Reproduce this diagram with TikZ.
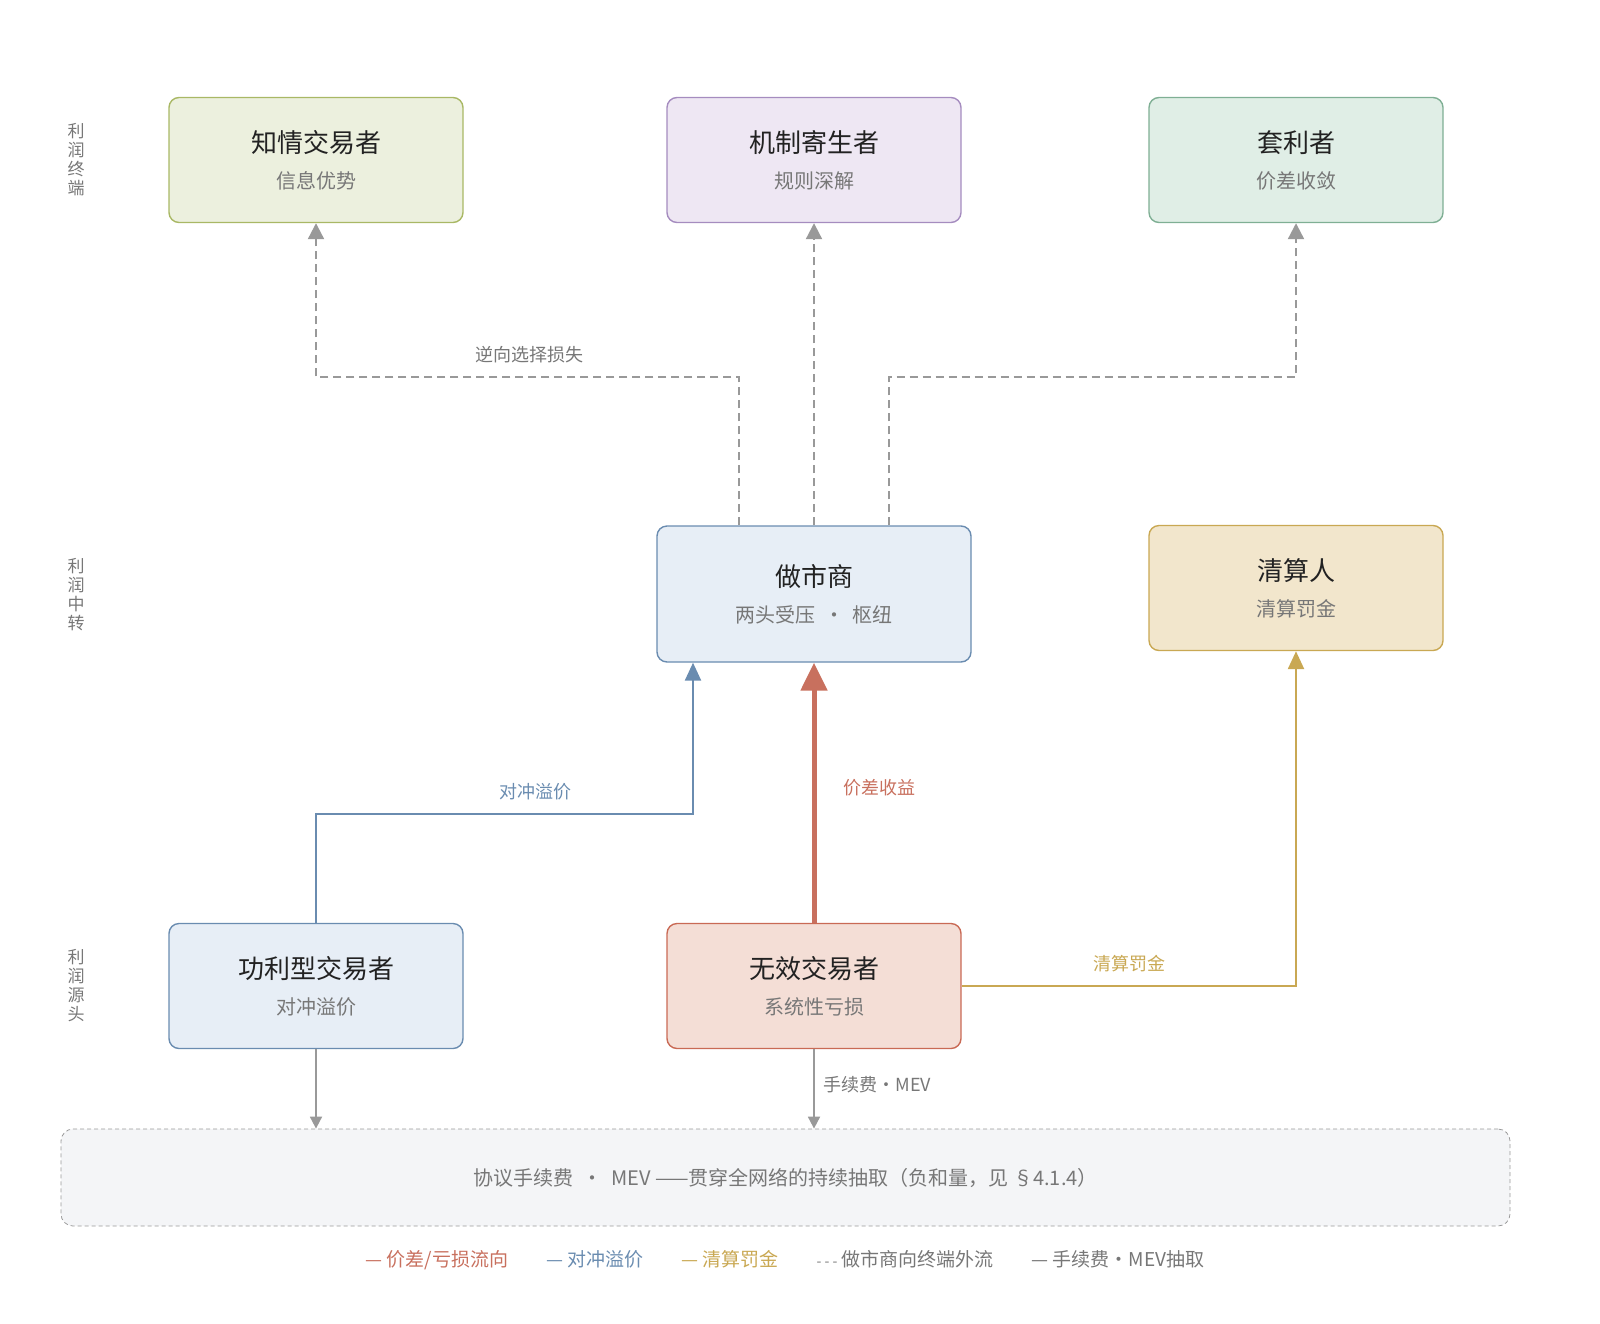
\documentclass[tikz,border=0pt]{standalone}
\usepackage{fontspec}
\setmainfont{Noto Sans CJK SC}
\usetikzlibrary{arrows.meta}
\definecolor{ink}{HTML}{222222}
\definecolor{sub}{HTML}{777777}
\definecolor{flow}{HTML}{999999}
\definecolor{redc}{HTML}{C8705E}
\definecolor{bluec}{HTML}{6A8CB0}
\definecolor{goldc}{HTML}{C9A853}
\tikzset{
  box/.style={draw, rounded corners=5pt, line width=0.7pt, minimum width=147pt, minimum height=62.5pt, align=center},
  side/.style={font=\fontsize{8.5}{9.5}\selectfont, text=sub, align=center},
  lbl/.style={font=\fontsize{9}{11}\selectfont},
  outflow/.style={draw=flow, line width=1.1pt, dash pattern=on 4pt off 2.5pt, -{Triangle[length=8pt,width=8pt]}},
}
\newcommand{\boxtext}[2]{{\fontsize{13}{16}\selectfont\color{ink}#1}\\[6pt]{\fontsize{10}{12}\selectfont\color{sub}#2}}
\begin{document}
\begin{tikzpicture}[x=0.5pt,y=-0.5pt]
  \useasboundingbox (0,0) rectangle (1600,1323);

  % side labels
  \node[side] (sideTop) at (76,160) {利\\润\\终\\端};
  \node[side] (sideMid) at (76,595) {利\\润\\中\\转};
  \node[side] (sideBot) at (76,986) {利\\润\\源\\头};

  % terminal tier
  \node[box, fill={rgb,255:red,236;green,240;blue,222}, draw={rgb,255:red,169;green,184;blue,101}] (informed) at (316,160) {\boxtext{知情交易者}{信息优势}};
  \node[box, fill={rgb,255:red,238;green,231;blue,243}, draw={rgb,255:red,165;green,140;blue,191}] (parasite) at (814,160) {\boxtext{机制寄生者}{规则深解}};
  \node[box, fill={rgb,255:red,224;green,238;blue,230}, draw={rgb,255:red,127;green,175;blue,148}] (arb) at (1296,160) {\boxtext{套利者}{价差收敛}};

  % middle tier
  \node[box, minimum width=157pt, minimum height=68pt, fill={rgb,255:red,231;green,238;blue,246}, draw=bluec] (mm) at (814,594) {\boxtext{做市商}{两头受压\ \ ·\ \ 枢纽}};
  \node[box, fill={rgb,255:red,242;green,230;blue,204}, draw=goldc] (liq) at (1296,588) {\boxtext{清算人}{清算罚金}};

  % source tier
  \node[box, fill={rgb,255:red,231;green,238;blue,246}, draw=bluec] (hedger) at (316,986) {\boxtext{功利型交易者}{对冲溢价}};
  \node[box, fill={rgb,255:red,244;green,222;blue,214}, draw={rgb,255:red,201;green,106;blue,85}] (noise) at (814,986) {\boxtext{无效交易者}{系统性亏损}};

  % fee layer
  \node[draw=flow, dash pattern=on 2pt off 1.5pt, rounded corners=6pt, fill={rgb,255:red,244;green,245;blue,247}, minimum width=724.5pt, minimum height=48.5pt, font=\fontsize{10}{12}\selectfont, text=sub] (fees) at (785.5,1177.5) {协议手续费\ \ ·\ \ MEV ——贯穿全网络的持续抽取（负和量，见 §4.1.4）};

  % outflows of the market maker
  \draw[outflow] ([xshift=-37.5pt]mm.north) |- (529,377) node[lbl, text=sub, above=3pt] {逆向选择损失} -| (informed.south);
  \draw[outflow] (mm.north) -- (parasite.south);
  \draw[outflow] ([xshift=37.5pt]mm.north) |- (1100,377) -| (arb.south);

  % flows into the market maker
  \draw[draw=bluec, line width=1.2pt, -{Triangle[length=9pt,width=8pt]}] (hedger.north) |- (535,814) node[lbl, text=bluec, above=3pt] {对冲溢价} -| ([xshift=-60.5pt]mm.south);
  \draw[draw=redc, line width=2.5pt, -{Triangle[length=14pt,width=13pt]}] (noise.north) -- node[lbl, text=redc, pos=0.52, right=10pt] {价差收益} (mm.south);
  \draw[draw=goldc, line width=1.2pt, -{Triangle[length=9pt,width=8pt]}] (noise.east) -- (1129,986) node[lbl, text=goldc, above=3pt] {清算罚金} -| (liq.south);

  % fee extraction
  \draw[draw=flow, line width=0.9pt, -{Triangle[length=6pt,width=6pt]}] (hedger.south) -- (hedger.south |- fees.north);
  \draw[draw=flow, line width=0.9pt, -{Triangle[length=6pt,width=6pt]}] (noise.south) -- node[lbl, text=sub, pos=0.45, right=1pt] {手续费・MEV} (noise.south |- fees.north);

  % legend
  \node[lbl, font=\fontsize{9.5}{11}\selectfont] (legend) at (785,1260) {\color{redc}— 价差/亏损流向\qquad\color{bluec}— 对冲溢价\qquad\color{goldc}— 清算罚金\qquad\color{sub}{\fontsize{7}{8}\selectfont - - -} 做市商向终端外流\qquad — 手续费・MEV抽取};
\end{tikzpicture}
\end{document}
